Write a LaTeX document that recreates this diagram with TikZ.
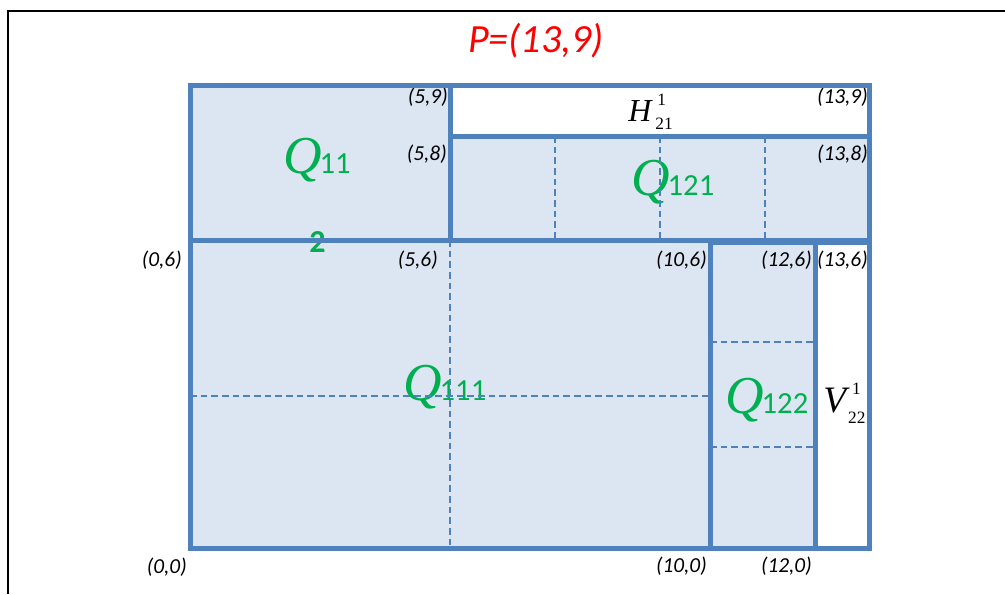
\documentclass[tikz,border=0pt]{standalone}
\usepackage{fontspec}
\newfontfamily\calfont{Carlito}
\newfontfamily\timesfont{Liberation Serif}
\definecolor{lineblue}{HTML}{4F81BD}
\definecolor{fillblue}{HTML}{DCE6F2}
\definecolor{qgreen}{HTML}{00B050}
\newcommand{\smallnumtext}[1]{{\upshape\fontsize{13}{14}\selectfont #1}}
\begin{document}
\begin{tikzpicture}[x=0.75pt,y=-0.75pt,
  thickline/.style={draw=lineblue,line width=3.75pt},
  bluefill/.style={fill=fillblue},
  whitefill/.style={fill=white},
  gridline/.style={draw=lineblue,line width=1.7pt,dash pattern=on 5pt off 3pt},
  coordlbl/.style={font=\calfont\itshape\fontsize{16}{18}\selectfont,text=black,inner sep=0pt,anchor=east},
  qletter/.style={font=\timesfont\itshape\fontsize{40}{42}\selectfont,text=qgreen,inner sep=0pt,anchor=base west},
  qdigits/.style={font=\calfont\fontsize{23}{26}\selectfont,text=qgreen,inner sep=0pt,anchor=base west},
  bigital/.style={text=black,inner sep=0pt,anchor=base west}]
\useasboundingbox (0,0) rectangle (1005,594);
% page frame
\draw[black,line width=1.5pt] (8,594) -- (8,11) -- (1005,11);

% grid coordinates
\coordinate (x0y9) at (190,85);
\coordinate (x5y9) at (450,85);
\coordinate (x13y9) at (869,85);
\coordinate (x5y8) at (450,136);
\coordinate (x13y8) at (869,136);
\coordinate (x0y6) at (190,240);
\coordinate (x5y6) at (450,240);
\coordinate (x7y6) at (555,240);
\coordinate (x9y6) at (660,240);
\coordinate (x11y6) at (765,240);
\coordinate (x7y8) at (555,136);
\coordinate (x9y8) at (660,136);
\coordinate (x11y8) at (765,136);
\coordinate (x10y6) at (710,242);
\coordinate (x12y6) at (815,242);
\coordinate (x13y6) at (869,242);
\coordinate (x0y3) at (190,396);
\coordinate (x10y3) at (710,396);
\coordinate (x10y4) at (710,342);
\coordinate (x12y4) at (815,342);
\coordinate (x10y2) at (710,447);
\coordinate (x12y2) at (815,447);
\coordinate (x0y0) at (190,548);
\coordinate (x5y0) at (450,548);
\coordinate (x10y0) at (710,548);
\coordinate (x12y0) at (815,548);
\coordinate (x13y0) at (869,548);
\coordinate (x10y6b) at (710,240);

% fills
\path[bluefill] (x0y6) rectangle (x5y9);
\path[whitefill] (x5y8) rectangle (x13y9);
\path[bluefill] (x5y6) rectangle (x13y8);
\path[bluefill] (x0y0) rectangle (x10y6b);
\path[bluefill] (x10y0) rectangle (x12y6);
\path[whitefill] (x12y0) rectangle (x13y6);

% title
\node[font=\calfont\itshape\fontsize{30}{34}\selectfont,text=red,inner sep=0pt,anchor=base] (title) at (536,52) {P=(13,9)};

% green labels
\node[qletter] (q11) at (283,173) {Q};
\node[qdigits] (q11d) at ([xshift=-2]q11.base east) {11};
\node[qdigits,font=\calfont\bfseries\fontsize{24}{26}\selectfont] (two) at (309,252) {2};
\node[qletter] (q121) at (631,195) {Q};
\node[qdigits] (q121d) at ([xshift=-2]q121.base east) {121};
\node[qletter] (q111) at (403,400) {Q};
\node[qdigits] (q111d) at ([xshift=-2]q111.base east) {111};
\node[qletter] (q122) at (725,413) {Q};
\node[qdigits] (q122d) at ([xshift=-2]q122.base east) {122};

% H and V labels
\node[bigital,font=\timesfont\itshape\fontsize{24}{26}\selectfont] (h21) at (628,121)
  {H\hspace{3pt}\rlap{\hspace{1.5pt}\raisebox{12pt}{\smallnumtext{1}}}\raisebox{-6pt}{\smallnumtext{21}}};
\node[bigital,font=\timesfont\itshape\fontsize{28}{30}\selectfont] (v22) at (823,412)
  {V\hspace{1.5pt}\rlap{\hspace{3pt}\raisebox{13.5pt}{\smallnumtext{1}}}\raisebox{-8.25pt}{\smallnumtext{22}}};

% coordinate labels
\node[coordlbl] (l59) at (448,97) {(5,9)};
\node[coordlbl] (l58) at (447,154) {(5,8)};
\node[coordlbl] (l139) at (868,97) {(13,9)};
\node[coordlbl] (l138) at (868,154) {(13,8)};
\node[coordlbl] (l06) at (182,260) {(0,6)};
\node[coordlbl] (l56) at (438,260) {(5,6)};
\node[coordlbl] (l106) at (707,260) {(10,6)};
\node[coordlbl] (l126) at (812,260) {(12,6)};
\node[coordlbl] (l136) at (868,260) {(13,6)};
\node[coordlbl] (l00) at (187,567) {(0,0)};
\node[coordlbl] (l100) at (707,566) {(10,0)};
\node[coordlbl] (l120) at (812,566) {(12,0)};

% dashed subdivisions
\draw[gridline] (x7y8) -- (x7y6);
\draw[gridline] (x9y8) -- (x9y6);
\draw[gridline] (x11y8) -- (x11y6);
\draw[gridline] (x5y6) -- (x5y0);
\draw[gridline] (x0y3) -- (x10y3);
\draw[gridline] (x10y4) -- (x12y4);
\draw[gridline] (x10y2) -- (x12y2);

% thick borders
\draw[thickline] (x0y6) rectangle (x5y9);
\draw[thickline] (x5y8) rectangle (x13y9);
\draw[thickline] (x5y6) rectangle (x13y8);
\draw[thickline] (x0y0) rectangle (x10y6b);
\draw[thickline] (x10y0) rectangle (x12y6);
\draw[thickline] (x12y0) rectangle (x13y6);
\end{tikzpicture}
\end{document}
